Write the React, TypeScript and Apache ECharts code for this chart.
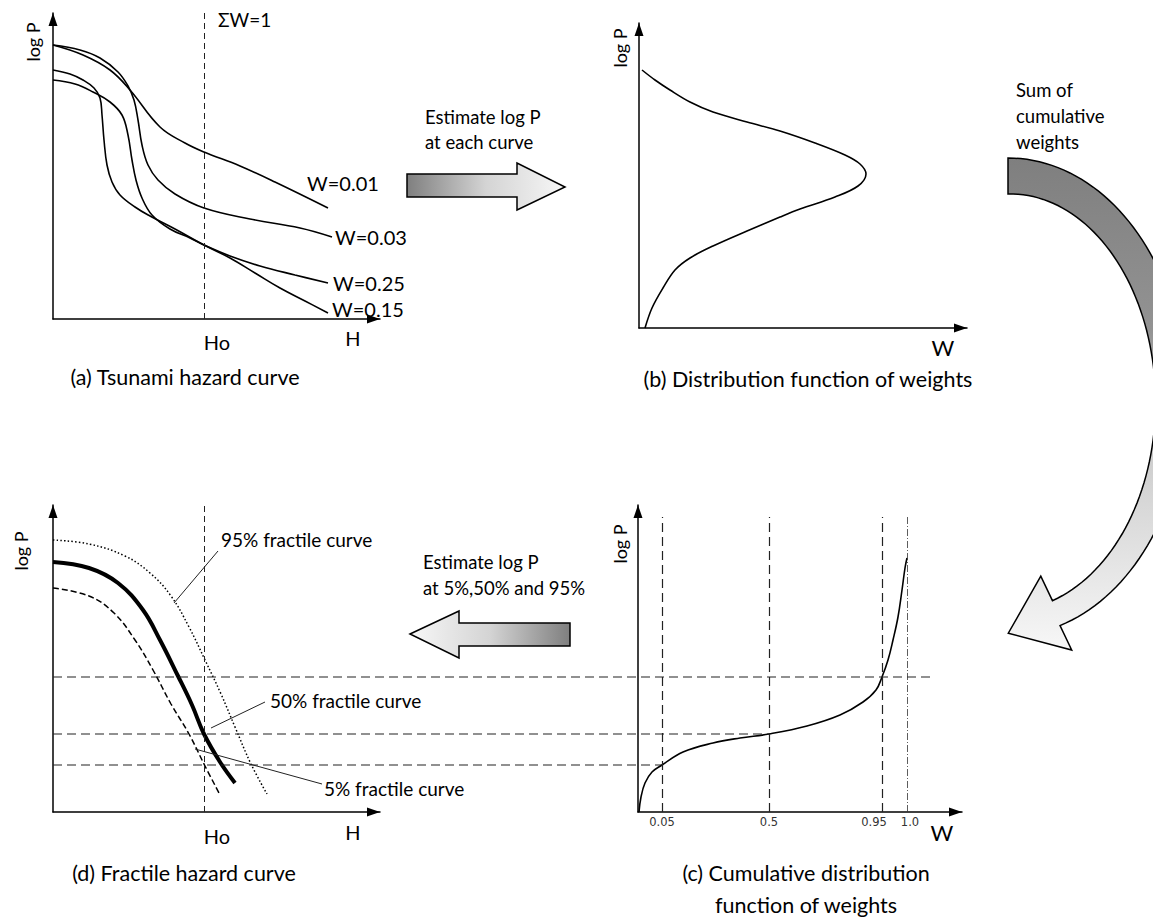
import React, { useEffect, useRef } from 'react';
import * as echarts from 'echarts';

// ---------- data (schematic units) ----------
// (a) Tsunami hazard curves: [H, log P]
const hazardW001 = [[0,274],[30,264],[57,249],[77,229],[107,192],[132,176],[151,167],[187,153],[222,137],[275,111]];
const hazardW003 = [[0,274],[27,269],[47,261],[65,247],[75,233],[81,219],[85,199],[89,174],[95,154],[105,139],[122,125],[151,111],[197,100],[247,91],[279,82]];
const hazardW025 = [[0,239],[22,235],[40,227],[57,217],[69,204],[75,184],[79,159],[83,139],[89,121],[99,104],[117,90],[137,81],[151,74],[177,63],[207,53],[242,44],[275,36]];
const hazardW015 = [[0,249],[17,245],[30,239],[41,231],[47,221],[49,204],[51,179],[54,154],[59,137],[67,124],[82,112],[97,103],[122,90],[151,74],[177,61],[202,46],[227,31],[252,18],[275,6]];
const hazardLabels = ['W=0.01', 'W=0.03', 'W=0.25', 'W=0.15'];
const hoValue = 151;

// (b) distribution of weights: [W, log P]
const weightPdf = [[3,258],[16,248],[31,238],[51,226],[74,216],[108,206],[141,197],[176,185],[206,173],[221,164],[227,154],[219,142],[196,131],[161,119],[141,111],[108,97],[74,82],[51,70],[36,58],[24,40],[13,20],[6,0]];

// (c) cumulative distribution: [W, log P]
const weightCdf = [[1,0],[3,15],[7,29],[14,40],[24,47],[45,60],[75,69],[102,74],[131,78],[169,86],[202,97],[225,110],[238,122],[244,135],[250,152],[255,172],[260,195],[264,222],[267,244],[269,254]];
const cdfTickPos = [24, 131, 244, 269];
const cdfTickLabels = ['0.05', '0.5', '0.95', '1.0'];
const cdfTickTop = 295;

// horizontal guides (log P at 5%, 50%, 95%) and where they stop on the right
const fractileLevels = [47, 78, 135];
const guideEnds = [609, 716, 882];

// (d) fractile hazard curves: [H, log P]
const fractile95 = [[0,272],[36,268],[72,256],[97,239],[118,216],[136,185],[152,152],[168,118],[182,85],[198,48],[214,18]];
const fractile50 = [[0,250],[36,244],[65,229],[90,202],[107,172],[125,136],[139,107],[151,78],[167,50],[182,29]];
const fractile05 = [[0,224],[36,216],[61,199],[82,172],[100,142],[118,108],[136,78],[152,46],[166,19]];
const leaderLines = [
  [[165, 261], [121, 209]],
  [[212, 110], [158, 84]],
  [[142, 63], [269, 28]],
];

// ---------- helpers ----------
const FONT = 'Lato, "Open Sans", sans-serif';

const mkAxis = (gridIndex: number, max: number, show = true) => ({
  type: 'value',
  gridIndex,
  min: 0,
  max,
  show,
  axisLine: {
    show: true,
    onZero: false,
    symbol: ['none', 'triangle'],
    symbolSize: [9, 13],
    symbolOffset: [0, -6.5],
    lineStyle: { color: '#000', width: 1.5 },
  },
  axisTick: { show: false },
  axisLabel: { show: false },
  splitLine: { show: false },
});

const txt = (x: number, y: number, text: string, fontSize: number, align = 'left', rotation = 0) => ({
  type: 'text',
  x,
  y,
  rotation,
  silent: true,
  style: { text, fontSize, fontFamily: FONT, fill: '#000', align, verticalAlign: 'middle' },
});

const straightArrow = (pts: number[][], dark: 'left' | 'right') => ({
  type: 'polygon',
  silent: true,
  shape: { points: pts },
  style: {
    fill: new echarts.graphic.LinearGradient(0, 0, 1, 0,
      dark === 'left'
        ? [{ offset: 0, color: '#7f7f7f' }, { offset: 0.5, color: '#d4d4d4' }, { offset: 1, color: '#f7f7f7' }]
        : [{ offset: 0, color: '#f7f7f7' }, { offset: 0.5, color: '#d4d4d4' }, { offset: 1, color: '#7f7f7f' }]),
    stroke: '#000',
    lineWidth: 1.5,
  },
});

function curvedArrowPoints() {
  const cx = 1008, cy = 397, rxo = 178, ryo = 239;
  const t0 = -Math.PI / 2, t1 = (73 * Math.PI) / 180;
  const n = 80;
  const outer: number[][] = [];
  const inner: number[][] = [];
  for (let i = 0; i <= n; i++) {
    const t = t0 + ((t1 - t0) * i) / n;
    const d = 36 - (10 * i) / n;
    outer.push([cx + rxo * Math.cos(t), cy + ryo * Math.sin(t)]);
    inner.push([cx + (rxo - d) * Math.cos(t), cy + (ryo - d) * Math.sin(t)]);
  }
  const rxm = rxo - 13, rym = ryo - 13;
  const mid = [cx + rxm * Math.cos(t1), cy + rym * Math.sin(t1)];
  let nx = Math.cos(t1) / rxm, ny = Math.sin(t1) / rym;
  const nl = Math.hypot(nx, ny); nx /= nl; ny /= nl;
  let tx = -rxm * Math.sin(t1), ty = rym * Math.cos(t1);
  const tl = Math.hypot(tx, ty); tx /= tl; ty /= tl;
  const hw = 40, hl = 52;
  const outerBarb = [mid[0] + nx * hw, mid[1] + ny * hw];
  const innerBarb = [mid[0] - nx * hw, mid[1] - ny * hw];
  const tip = [mid[0] + tx * hl, mid[1] + ty * hl];
  return [...outer, outerBarb, tip, innerBarb, ...inner.reverse()];
}

const curve = (name: string, data: number[][], xi: number, extra: any = {}) => ({
  type: 'line',
  name,
  xAxisIndex: xi,
  yAxisIndex: xi,
  data,
  smooth: 0.4,
  symbol: 'none',
  showSymbol: false,
  silent: true,
  lineStyle: { color: '#000', width: 1.6 },
  ...extra,
});

const hoLine = {
  symbol: ['none', 'none'],
  silent: true,
  label: { show: false },
  lineStyle: { type: [6, 4], color: '#222', width: 1 },
  data: [{ xAxis: hoValue }],
};

const endLbl = (text: string, offset: number[]) => ({
  show: true,
  formatter: text,
  offset,
  distance: 5,
  fontSize: 20,
  fontFamily: FONT,
  color: '#000',
});

// horizontal shift of the tick labels under panel (c)
const tickPad = [[0, 0], [0, 0], [0, 16], [6, 0]];

export default function App() {
  const ref = useRef<HTMLDivElement>(null);
  useEffect(() => {
    document.body.style.margin = '0';
    const chart = echarts.init(ref.current!, null, { renderer: 'svg' });

    const option: any = {
      animation: false,
      grid: [
        { left: 53, top: 13, width: 327, height: 306 },   // (a)
        { left: 639, top: 23, width: 328, height: 305 },  // (b)
        { left: 638, top: 505, width: 324, height: 307 }, // (c)
        { left: 53, top: 505, width: 327, height: 307 },  // (d)
        { left: 53, top: 505, width: 909, height: 307 },  // guides
      ],
      xAxis: [mkAxis(0, 327), mkAxis(1, 328), mkAxis(2, 324), mkAxis(3, 327), mkAxis(4, 909, false)],
      yAxis: [mkAxis(0, 306), mkAxis(1, 305), mkAxis(2, 307), mkAxis(3, 307), mkAxis(4, 307, false)],
      series: [
        curve('W=0.01', hazardW001, 0, { markLine: hoLine, endLabel: endLbl(hazardLabels[0], [-26, -25]) }),
        curve('W=0.03', hazardW003, 0, { endLabel: endLbl(hazardLabels[1], [-2, 0]) }),
        curve('W=0.25', hazardW025, 0, { endLabel: endLbl(hazardLabels[2], [0, 0]) }),
        curve('W=0.15', hazardW015, 0, { endLabel: endLbl(hazardLabels[3], [-1, -4]) }),
        curve('pdf', weightPdf, 1, { smooth: 0.35 }),
        curve('cdf', weightCdf, 2, {
          markLine: {
            symbol: ['none', 'none'],
            silent: true,
            data: cdfTickPos.map((v, i) => [
              {
                coord: [v, 0],
                lineStyle: i === 3
                  ? { type: [7, 2, 1, 2], color: '#333', width: 0.8 }
                  : { type: [9, 5], color: '#222', width: 1.2 },
                label: {
                  show: true,
                  position: 'start',
                  formatter: '{t|' + cdfTickLabels[i] + '}',
                  distance: 4,
                  rich: {
                    t: {
                      fontSize: 11.5,
                      fontFamily: 'DejaVu Sans',
                      color: '#333',
                      padding: [0, tickPad[i][1], 0, tickPad[i][0]],
                    },
                  },
                },
              },
              { coord: [v, cdfTickTop] },
            ]),
          },
        }),
        curve('95%', fractile95, 3, { lineStyle: { color: '#000', width: 1.5, type: [1.5, 2.2] }, markLine: hoLine }),
        curve('50%', fractile50, 3, {
          lineStyle: { color: '#000', width: 4 },
          markLine: {
            symbol: ['none', 'none'],
            silent: true,
            label: { show: false },
            lineStyle: { type: 'solid', color: '#222', width: 1 },
            data: leaderLines.map((seg) => [{ coord: seg[0] }, { coord: seg[1] }]),
          },
        }),
        curve('5%', fractile05, 3, { lineStyle: { color: '#000', width: 1.5, type: [6, 3] } }),
        ...fractileLevels.map((lv, i) => ({
          type: 'line',
          xAxisIndex: 4,
          yAxisIndex: 4,
          data: [[0, lv], [guideEnds[i], lv]],
          symbol: 'none',
          silent: true,
          lineStyle: { color: '#222', width: 1.2, type: [9, 5] },
        })),
      ],
      graphic: [
        // axis names
        txt(33, 42, 'log P', 18, 'center', Math.PI / 2),
        txt(620, 48, 'log P', 18, 'center', Math.PI / 2),
        txt(620, 544, 'log P', 18, 'center', Math.PI / 2),
        txt(21, 551, 'log P', 18, 'center', Math.PI / 2),
        txt(218, 19, 'ΣW=1', 19),
        txt(217, 342, 'Ho', 20, 'center'),
        txt(353, 338, 'H', 20, 'center'),
        txt(217, 836, 'Ho', 20, 'center'),
        txt(353, 832, 'H', 20, 'center'),
        txt(943, 347, 'W', 22, 'center'),
        txt(942, 832, 'W', 22, 'center'),
        // titles
        txt(185, 377, '(a) Tsunami hazard curve', 21.5, 'center'),
        txt(808, 379, '(b) Distribution function of weights', 21.5, 'center'),
        txt(806, 873, '(c) Cumulative distribution', 21.5, 'center'),
        txt(806, 905, 'function of weights', 21.5, 'center'),
        txt(184, 873, '(d) Fractile hazard curve', 21.5, 'center'),
        // annotations
        txt(425, 117, 'Estimate log P', 18.5),
        txt(425, 142, 'at each curve', 18.5),
        txt(423, 562, 'Estimate log P', 18.5),
        txt(423, 588, 'at 5%,50% and 95%', 18.5),
        txt(1016, 90, 'Sum of', 18.5),
        txt(1016, 116, 'cumulative', 18.5),
        txt(1016, 142, 'weights', 18.5),
        txt(221, 539, '95% fractile curve', 19),
        txt(270, 700, '50% fractile curve', 19),
        txt(324, 788, '5% fractile curve', 19),
        // arrows
        straightArrow([[407, 174], [517, 174], [517, 163], [565, 187], [517, 210], [517, 197], [407, 197]], 'left'),
        straightArrow([[410, 634], [459, 611], [459, 623], [570, 623], [570, 646], [459, 646], [459, 658]], 'right'),
        {
          type: 'polygon',
          silent: true,
          shape: { points: curvedArrowPoints() },
          style: {
            fill: new echarts.graphic.LinearGradient(0, 0, 0, 1, [
              { offset: 0, color: '#7f7f7f' },
              { offset: 0.35, color: '#939393' },
              { offset: 0.6, color: '#cdcdcd' },
              { offset: 1, color: '#f7f7f7' },
            ]),
            stroke: '#000',
            lineWidth: 1.5,
          },
        },
      ],
    };

    chart.setOption(option);
    return () => chart.dispose();
  }, []);

  return <div ref={ref} style={{ width: 1153, height: 921, position: 'absolute', left: 0, top: 0 }} />;
}
